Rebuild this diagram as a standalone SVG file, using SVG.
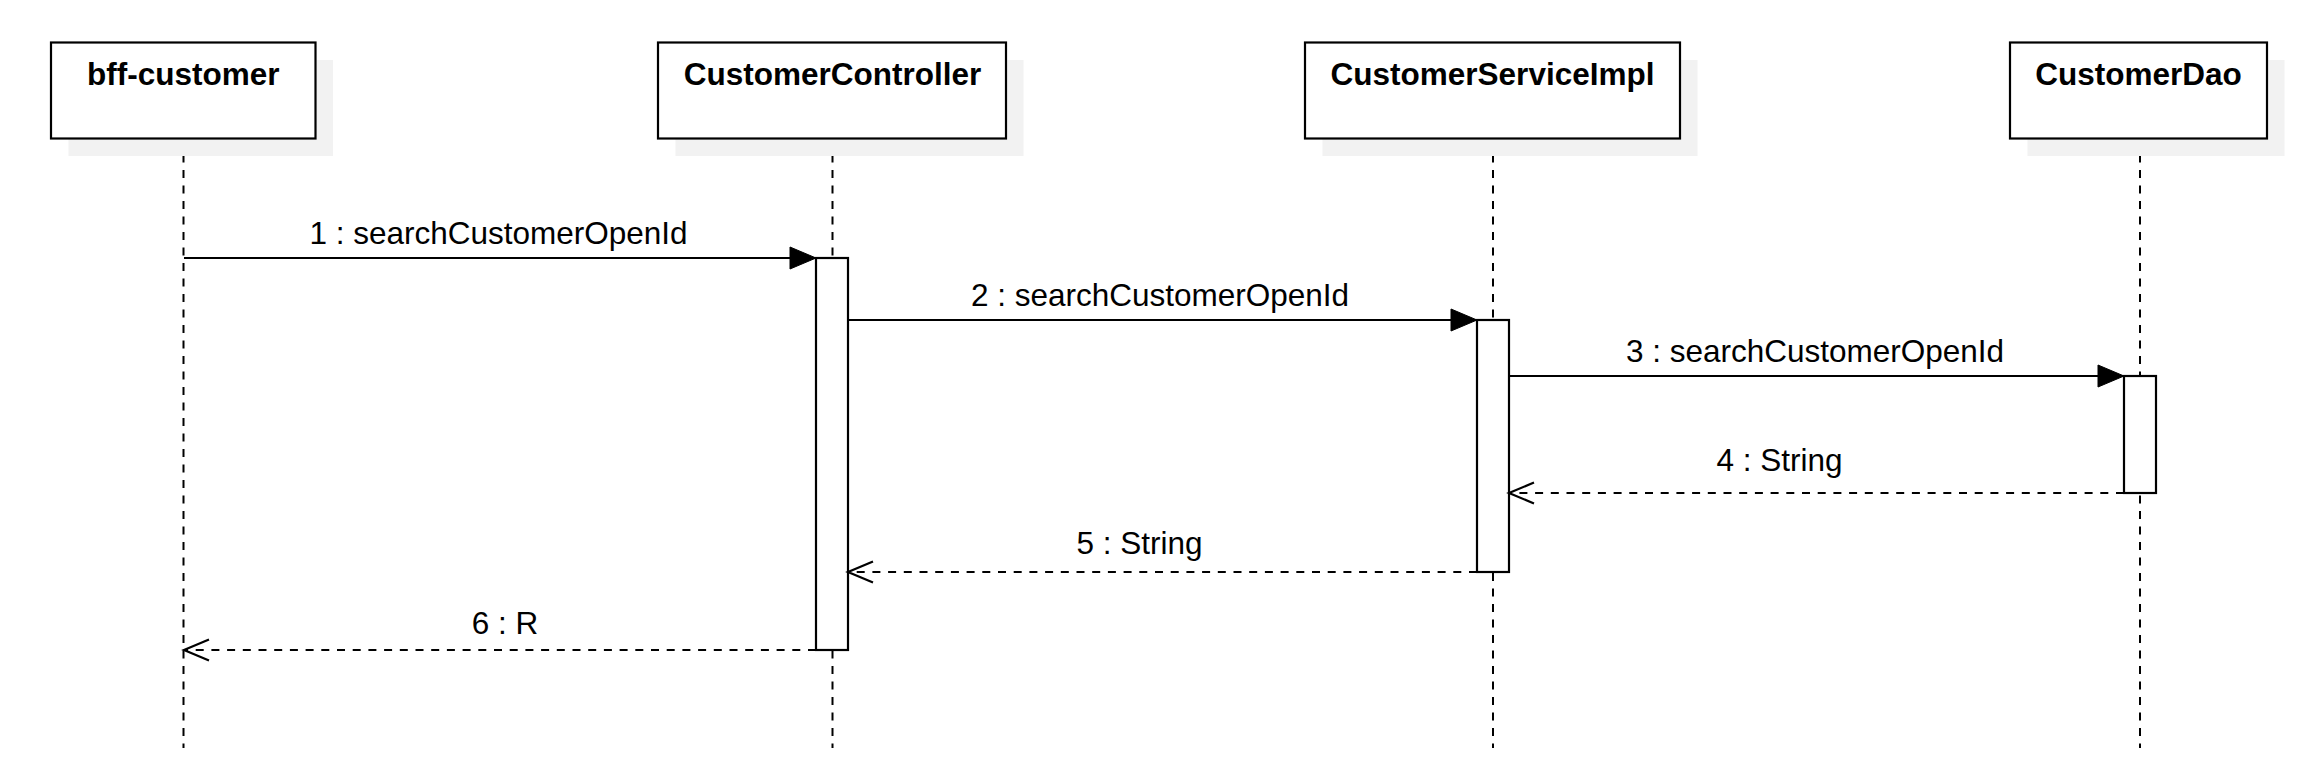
<svg xmlns="http://www.w3.org/2000/svg" width="2314" height="769" viewBox="0 0 2314 769">
<style>
  .box{fill:#ffffff;stroke:#000000;stroke-width:2.2}
  .shadow{fill:#f2f2f2;stroke:none}
  .title{font-family:"Liberation Sans",Arial,sans-serif;font-size:31.5px;font-weight:bold;fill:#000000;text-anchor:middle}
  .life{stroke:#000000;stroke-width:2;stroke-dasharray:8 7.5;fill:none}
  .act{fill:#ffffff;stroke:#000000;stroke-width:2.2}
  .call{stroke:#000000;stroke-width:2.2;fill:none}
  .ret{stroke:#000000;stroke-width:2.2;fill:none;stroke-dasharray:8 7.7}
  .lbl{font-family:"Liberation Sans",Arial,sans-serif;font-size:31.5px;fill:#000000;text-anchor:middle}
</style>
<defs>
  <marker id="filled" markerUnits="userSpaceOnUse" markerWidth="30" markerHeight="26" refX="26" refY="12" orient="auto" overflow="visible">
    <path d="M0,1 L26,12 L0,23 Z" fill="#000000" stroke="#000000" stroke-width="1"/>
  </marker>
  <marker id="open" markerUnits="userSpaceOnUse" markerWidth="30" markerHeight="26" refX="26" refY="12" orient="auto" overflow="visible">
    <path d="M1,1.5 L26,12 L1,22.5" fill="none" stroke="#000000" stroke-width="2.2"/>
  </marker>
</defs>

<g id="lifelines">
  <line class="life" x1="183.5" y1="139" x2="183.5" y2="748"/>
  <line class="life" x1="832.5" y1="139" x2="832.5" y2="748"/>
  <line class="life" x1="1493" y1="139" x2="1493" y2="748"/>
  <line class="life" x1="2140" y1="139" x2="2140" y2="748"/>
</g>

<g id="node-bff-customer">
  <rect class="shadow" x="68.5" y="60" width="264.5" height="96"/>
  <rect class="box" x="51" y="42.5" width="264.5" height="96"/>
  <text class="title" x="183.3" y="84.5">bff-customer</text>
</g>
<g id="node-CustomerController">
  <rect class="shadow" x="675.5" y="60" width="348" height="96"/>
  <rect class="box" x="658" y="42.5" width="348" height="96"/>
  <text class="title" x="832.5" y="84.5">CustomerController</text>
</g>
<g id="node-CustomerServiceImpl">
  <rect class="shadow" x="1322.5" y="60" width="375" height="96"/>
  <rect class="box" x="1305" y="42.5" width="375" height="96"/>
  <text class="title" x="1492.5" y="84.5">CustomerServiceImpl</text>
</g>
<g id="node-CustomerDao">
  <rect class="shadow" x="2027.5" y="60" width="257" height="96"/>
  <rect class="box" x="2010" y="42.5" width="257" height="96"/>
  <text class="title" x="2138.5" y="84.5">CustomerDao</text>
</g>

<g id="activations">
  <rect class="act" x="816" y="258" width="32" height="392"/>
  <rect class="act" x="1477" y="320" width="32" height="252"/>
  <rect class="act" x="2124" y="376" width="32" height="117"/>
</g>

<g id="connectors">
  <line class="call" x1="184" y1="258" x2="816" y2="258" marker-end="url(#filled)"/>
  <text class="lbl" x="498.5" y="244">1 : searchCustomerOpenId</text>

  <line class="call" x1="848" y1="320" x2="1477" y2="320" marker-end="url(#filled)"/>
  <text class="lbl" x="1160" y="306">2 : searchCustomerOpenId</text>

  <line class="call" x1="1509" y1="376" x2="2124" y2="376" marker-end="url(#filled)"/>
  <text class="lbl" x="1815" y="362">3 : searchCustomerOpenId</text>

  <line class="ret" x1="2124" y1="493" x2="1509" y2="493" marker-end="url(#open)"/>
  <text class="lbl" x="1779.5" y="471">4 : String</text>

  <line class="ret" x1="1477" y1="572" x2="848" y2="572" marker-end="url(#open)"/>
  <text class="lbl" x="1139.5" y="553.5">5 : String</text>

  <line class="ret" x1="816" y1="650" x2="184" y2="650" marker-end="url(#open)"/>
  <text class="lbl" x="505" y="633.5">6 : R</text>
</g>
</svg>
